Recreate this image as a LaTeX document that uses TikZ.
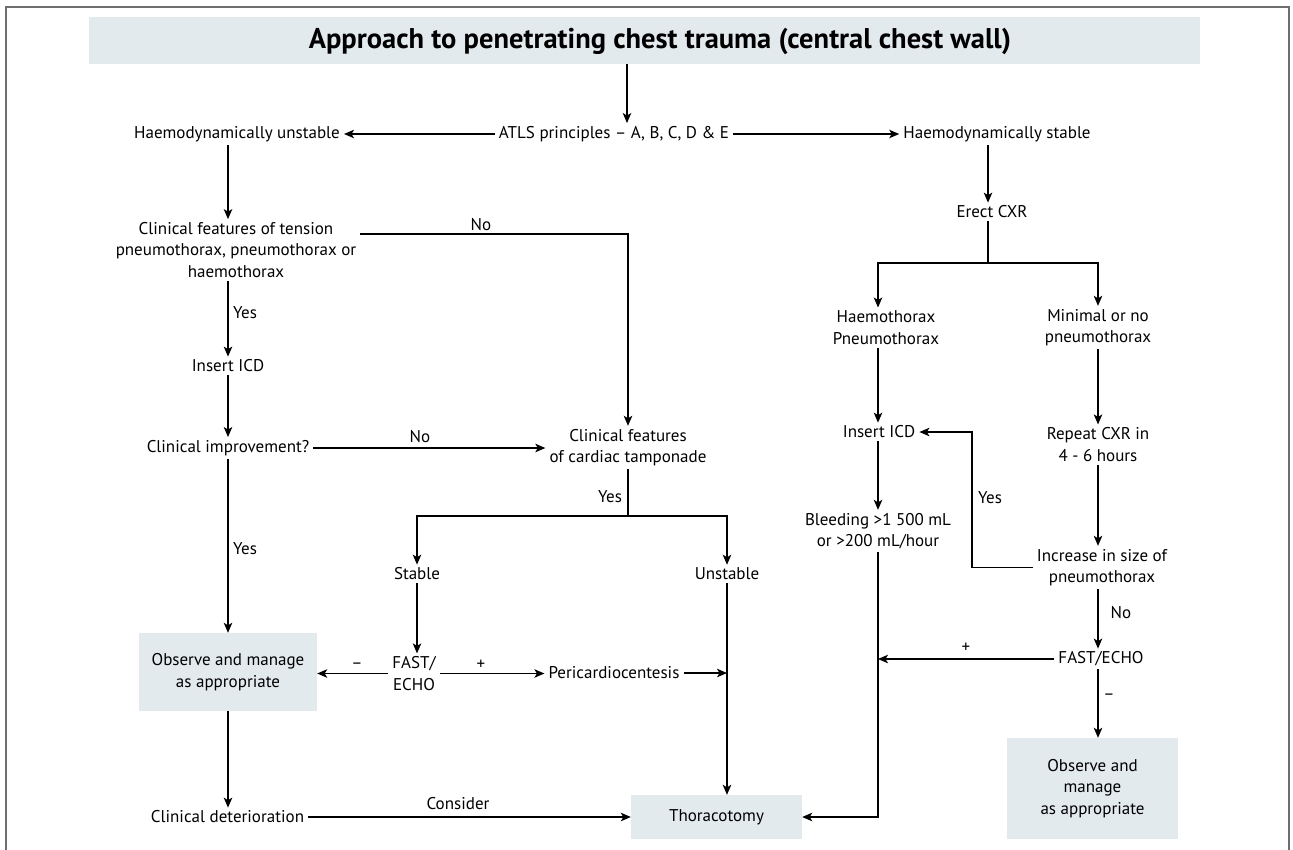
\documentclass[tikz,border=0pt]{standalone}
\usepackage{fontspec}
\setmainfont{PT Sans}
\usetikzlibrary{arrows.meta,calc}
\definecolor{boxfill}{HTML}{E3EAEE}
\definecolor{framegray}{HTML}{6E6E6E}
\begin{document}
\begin{tikzpicture}[x=1pt,y=-1pt,
  txt/.style={font=\fontsize{17}{21.5}\selectfont, align=center, inner xsep=4pt, inner ysep=3pt},
  lbl/.style={font=\fontsize{17}{21.5}\selectfont, inner sep=0pt},
  gbox/.style={txt, fill=boxfill},
  ln/.style={line width=1.3pt},
  arr/.style={line width=1.3pt, -{Stealth[length=10pt,width=8.5pt,inset=2.5pt]}}]
\useasboundingbox (0,0) rectangle (1293,849);
% frame
\draw[framegray, line width=1.5pt] (6,870) -- (6,7) -- (1289,7) -- (1289,870);
% title
\node[fill=boxfill, minimum width=1111pt, minimum height=47pt, inner sep=0pt] (bar) at (644.5,40.5) {};
\node[font=\fontsize{28.5}{32}\selectfont\bfseries, inner sep=0pt] (title) at (660,41) {Approach to penetrating chest trauma (central chest wall)};
% column coordinates
\coordinate (cT) at (627,0);
\coordinate (cA) at (228,0);
\coordinate (cB) at (628,0);
\coordinate (cE) at (988,0);
\coordinate (cR1) at (878,0);
\coordinate (cR2) at (1098,0);
\coordinate (cL) at (972,0);
\coordinate (split1) at (628,516);
\coordinate (split2) at (988,263);
% nodes
\node[txt] (atls) at (614,134) {ATLS principles – A, B, C, D \& E};
\node[txt] (hu) at (237,134) {Haemodynamically unstable};
\node[txt] (hs) at (997,134) {Haemodynamically stable};
\node[txt] (cf) at (236,250) {Clinical features of tension\\pneumothorax, pneumothorax or\\haemothorax};
\node[txt] (icd1) at (228,366) {Insert ICD};
\node[txt] (ci) at (228,448) {Clinical improvement?};
\node[txt] (ct) at (628,447.5) {Clinical features\\of cardiac tamponade};
\node[txt] (stab) at (417,574) {Stable};
\node[txt] (unst) at (727,574) {Unstable};
\node[txt] (fe1) at (414,673.5) {FAST/\\ECHO};
\node[txt] (peri) at (614,673) {Pericardiocentesis};
\node[gbox, minimum width=178pt, minimum height=78pt] (obs1) at (228,672) {Observe and manage\\as appropriate};
\node[txt] (cd) at (227.5,817) {Clinical deterioration};
\node[gbox, minimum width=171pt, minimum height=44pt] (thor) at (716.5,817) {Thoracotomy};
\node[txt] (ecxr) at (992,212) {Erect CXR};
\node[txt] (hp) at (886,327.5) {Haemothorax\\Pneumothorax};
\node[txt] (mn) at (1098,327.5) {Minimal or no\\pneumothorax};
\node[txt] (icd2) at (879,432) {Insert ICD};
\node[txt] (rep) at (1098,444.5) {Repeat CXR in\\4 - 6 hours};
\node[txt] (bl) at (878,531) {Bleeding >1 500 mL\\or >200 mL/hour};
\node[txt] (inc) at (1102,567.5) {Increase in size of\\pneumothorax};
\node[txt] (fe2) at (1101,659) {FAST/ECHO};
\node[gbox, minimum width=171pt, minimum height=101pt] (obs2) at (1092.5,788.5) {Observe and\\manage\\as appropriate};
% labels
\node[lbl] (lNo1) at (481,225) {No};
\node[lbl] (lYes1) at (245,313) {Yes};
\node[lbl] (lNo2) at (420,437) {No};
\node[lbl] (lYes2) at (610,497) {Yes};
\node[lbl] (lYes3) at (245,549) {Yes};
\node[lbl] (lMin1) at (357,666) {–};
\node[lbl] (lPlus1) at (481,665) {+};
\node[lbl] (lCons) at (458,804) {Consider};
\node[lbl] (lYes4) at (990,498) {Yes};
\node[lbl] (lNo3) at (1121,613) {No};
\node[lbl] (lPlus2) at (966,648) {+};
\node[lbl] (lMin2) at (1109,697) {–};
% connectors
\draw[arr] (bar.south -| cT) -- (atls.north -| cT);
\draw[arr] (atls.west) -- (hu.east);
\draw[arr] (atls.east) -- (hs.west);
\draw[arr] (hu.south -| cA) -- (cf.north -| cA);
\draw[arr] (cf.south -| cA) -- (icd1.north -| cA);
\draw[arr] (icd1.south -| cA) -- (ci.north -| cA);
\draw[arr] ([yshift=16pt]cf.east) -| (ct.north -| cB);
\draw[arr] (ci.east) -- (ci.east -| ct.west);
\draw[ln] (ct.south -| cB) -- (split1);
\draw[arr] (split1) -| (stab.north);
\draw[arr] (split1) -| (unst.north);
\draw[arr] (ci.south) -- (obs1.north);
\draw[arr] (stab.south) -- (stab.south |- fe1.north);
\draw[arr] (fe1.west) -- (fe1.west -| obs1.east);
\draw[arr] (fe1.east) -- (fe1.east -| peri.west);
\draw[arr] (peri.east) -- (peri.east -| unst);
\draw[arr] (unst.south) -- (unst.south |- thor.north);
\draw[arr] (obs1.south) -- (obs1.south |- cd.north);
\draw[arr] (cd.east) -- (cd.east -| thor.west);
\draw[arr] (hs.south -| cE) -- (ecxr.north -| cE);
\draw[ln] (ecxr.south -| cE) -- (split2);
\draw[arr] (split2) -| (hp.north -| cR1);
\draw[arr] (split2) -| (mn.north);
\draw[arr] (hp.south -| cR1) -- (icd2.north -| cR1);
\draw[arr] (icd2.south -| cR1) -- (bl.north -| cR1);
\draw[arr] (mn.south) -- (rep.north);
\draw[arr] (rep.south -| cR2) -- (inc.north -| cR2);
\draw[arr] (inc.west) -| (cL |- icd2) -- (icd2.east);
\draw[arr] (inc.south -| cR2) -- (fe2.north -| cR2);
\draw[arr] (fe2.west) -- (fe2.west -| cR1);
\draw[arr] (fe2.south -| cR2) -- (obs2.north -| cR2);
\draw[arr] (bl.south -| cR1) |- (thor.east);
\end{tikzpicture}
\end{document}
